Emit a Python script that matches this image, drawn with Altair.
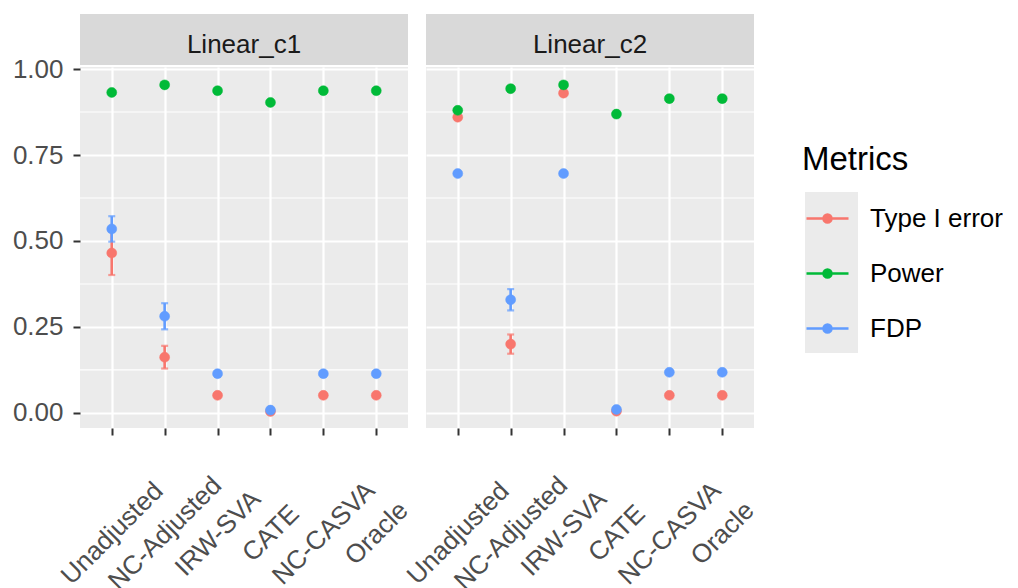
import altair as alt
import pandas as pd

methods = ["Unadjusted", "NC-Adjusted", "IRW-SVA", "CATE", "NC-CASVA", "Oracle"]
metrics = ["Type I error", "Power", "FDP"]
panels = ["Linear_c1", "Linear_c2"]
colors = ["#F8766D", "#00BA38", "#619CFF"]

# Linear_c1
type1_c1 = [0.465, 0.162, 0.051, 0.004, 0.051, 0.051]
type1_err_c1 = [0.064, 0.033, 0.0, 0.0, 0.0, 0.0]
power_c1 = [0.932, 0.954, 0.937, 0.903, 0.937, 0.937]
power_err_c1 = [0.0, 0.0, 0.0, 0.0, 0.0, 0.0]
fdp_c1 = [0.535, 0.281, 0.114, 0.008, 0.114, 0.114]
fdp_err_c1 = [0.037, 0.038, 0.0, 0.0, 0.0, 0.0]

# Linear_c2
type1_c2 = [0.860, 0.200, 0.930, 0.005, 0.051, 0.051]
type1_err_c2 = [0.0, 0.028, 0.0, 0.0, 0.0, 0.0]
power_c2 = [0.880, 0.943, 0.954, 0.869, 0.914, 0.914]
power_err_c2 = [0.0, 0.0, 0.0, 0.0, 0.0, 0.0]
fdp_c2 = [0.696, 0.329, 0.696, 0.010, 0.118, 0.118]
fdp_err_c2 = [0.0, 0.031, 0.0, 0.0, 0.0, 0.0]

major_breaks = [0.0, 0.25, 0.5, 0.75, 1.0]
minor_breaks = [0.125, 0.375, 0.625, 0.875]

series = {
    "Linear_c1": [(type1_c1, type1_err_c1), (power_c1, power_err_c1), (fdp_c1, fdp_err_c1)],
    "Linear_c2": [(type1_c2, type1_err_c2), (power_c2, power_err_c2), (fdp_c2, fdp_err_c2)],
}

rows = []
for p in panels:
    for m, (vals, errs) in zip(metrics, series[p]):
        for meth, v, e in zip(methods, vals, errs):
            rows.append({"Panel": p, "Method": meth, "Metric": m, "value": v,
                         "err": e, "lo": v - e, "hi": v + e})
df = pd.DataFrame(rows)

FONT = "Liberation Sans"
PW = 328
PH = 361
SH = 51
FS = 26

yscale = alt.Scale(domain=[-0.044, 1.006], nice=False, zero=False)
xscale = alt.Scale(type="point", padding=0.6, domain=methods)
cscale = alt.Scale(domain=metrics, range=colors)

leg = alt.Legend(
    title="Metrics",
    orient="none",
    legendX=722,
    legendY=77,
    titleFontSize=33,
    titleFontWeight="normal",
    titleColor="#000000",
    titleFont=FONT,
    titlePadding=19,
    labelFontSize=FS,
    labelColor="#000000",
    labelFont=FONT,
    labelOffset=20,
    symbolType="M-1,0L1,0M-0.19,0A0.19,0.19,0,1,0,0.19,0A0.19,0.19,0,1,0,-0.19,0Z",
    symbolSize=1764,
    symbolStrokeWidth=2.5,
    symbolOffset=3,
    rowPadding=19,
    padding=0,
)


def make_panel(name, show_y):
    d = df[df["Panel"] == name]
    xax = alt.Axis(title=None, labelAngle=315, labelAlign="center", labelBaseline="middle",
                   labelPadding=98, labelFontSize=FS, labelColor="#4D4D4D", labelFont=FONT,
                   tickSize=7, tickWidth=2, tickColor="#333333", domain=False,
                   grid=True, gridColor="white", gridWidth=2.2, labelOverlap=False)
    if show_y:
        yax = alt.Axis(title=None, values=major_breaks, format=".2f", labelFontSize=FS,
                       labelColor="#4D4D4D", labelFont=FONT, tickSize=7, tickWidth=2,
                       tickColor="#333333", labelPadding=10, domain=False,
                       grid=True, gridColor="white", gridWidth=2.2)
    else:
        yax = alt.Axis(title=None, values=major_breaks, labels=False, ticks=False,
                       domain=False, grid=True, gridColor="white", gridWidth=2.2)
    x = alt.X("Method:N", scale=xscale, axis=xax, sort=methods)

    minor = alt.Chart(pd.DataFrame({"v": minor_breaks})).mark_rule(
        color="white", strokeWidth=1.1).encode(y=alt.Y("v:Q", scale=yscale, axis=yax))

    base = alt.Chart(d)
    bars = base.transform_filter("datum.err > 0").mark_rule(strokeWidth=2.6).encode(
        x=x, y=alt.Y("lo:Q", scale=yscale), y2="hi:Q",
        stroke=alt.Stroke("Metric:N", scale=cscale, legend=leg))
    cap_lo = base.transform_filter("datum.err > 0").mark_tick(size=7, thickness=2.2).encode(
        x=x, y=alt.Y("lo:Q", scale=yscale),
        color=alt.Color("Metric:N", scale=cscale, legend=leg))
    cap_hi = base.transform_filter("datum.err > 0").mark_tick(size=7, thickness=2.2).encode(
        x=x, y=alt.Y("hi:Q", scale=yscale),
        color=alt.Color("Metric:N", scale=cscale, legend=leg))
    pts = base.mark_circle(size=100, opacity=1, strokeWidth=0.5).encode(
        x=x, y=alt.Y("value:Q", scale=yscale),
        fill=alt.Fill("Metric:N", scale=cscale, legend=leg),
        stroke=alt.Stroke("Metric:N", scale=cscale, legend=leg))

    # facet strip (panel header) drawn above the plot area
    sdf = pd.DataFrame({"label": [name]})
    srect = alt.Chart(sdf).mark_rect(color="#D9D9D9", clip=False).encode(
        x=alt.value(0), x2=alt.value(PW), y=alt.value(-SH - 2), y2=alt.value(-2))
    stext = alt.Chart(sdf).mark_text(fontSize=FS, color="#1A1A1A", font=FONT,
                                     baseline="alphabetic", align="center", clip=False).encode(
        text="label:N", x=alt.value(PW / 2), y=alt.value(-14.5))

    layers = [srect, stext, minor, bars, cap_lo, cap_hi, pts]
    if not show_y:
        keybox = alt.Chart(pd.DataFrame({"k": [0]})).mark_rect(
            color="#EBEBEB", clip=False).encode(
            x=alt.value(379), x2=alt.value(432), y=alt.value(125), y2=alt.value(286))
        layers = [keybox] + layers
    return alt.layer(*layers).properties(width=PW, height=PH)


chart = alt.hconcat(make_panel("Linear_c1", True), make_panel("Linear_c2", False),
                    spacing=18, bounds="flush").properties(
    padding={"left": 12, "top": 14, "right": 0, "bottom": 0},
    background="white",
).configure_view(stroke=None, fill="#EBEBEB")

chart.save("out.html", embed_options={"renderer": "svg", "actions": False})
